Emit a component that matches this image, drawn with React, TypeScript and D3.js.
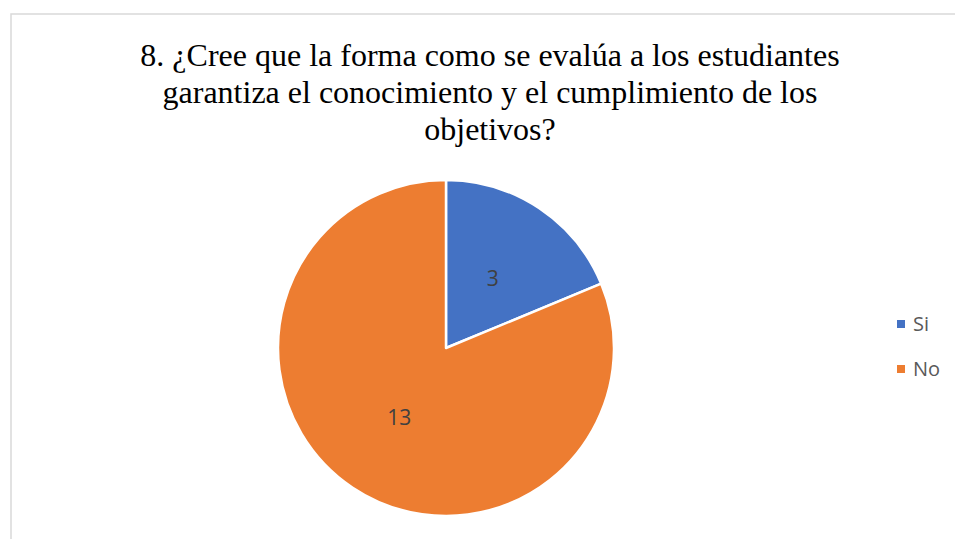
import React from "react";
import * as d3 from "d3";

const categories = ["Si", "No"];
const values = [3, 13];
const colors = ["#4472C4", "#ED7D31"];
const titleLines = [
  "8. ¿Cree que la forma como se evalúa a los estudiantes",
  "garantiza el conocimiento y el cumplimiento de los",
  "objetivos?",
];

export default function App() {
  const W = 955, H = 539;
  const cx = 446, cy = 348, R = 168;
  const pie = d3.pie<number>().sort(null).value((d) => d)(values);
  const arc = d3.arc<d3.PieArcDatum<number>>().innerRadius(0).outerRadius(R);
  const legendY = d3.scalePoint<string>().domain(categories).range([324, 369]);
  return (
    <svg width={W} height={H} style={{ position: "absolute", left: 0, top: 0 }}>
      <rect x={0} y={0} width={W} height={H} fill="#fff" />
      <rect x={11} y={14} width={W + 10} height={H + 10} fill="#fff" stroke="#d9d9d9" strokeWidth={1.5} />
      {titleLines.map((t, i) => (
        <text key={i} x={490} y={66 + i * 37} textAnchor="middle" fontFamily="'Liberation Serif', 'Times New Roman', serif" fontSize={32} fill="#000">
          {t}
        </text>
      ))}
      <g transform={`translate(${cx},${cy})`}>
        {pie.map((p, i) => (
          <path key={i} d={arc(p) || ""} fill={colors[i]} stroke="#fff" strokeWidth={2.5} strokeLinejoin="round" />
        ))}
        {pie.map((p, i) => {
          const [x, y] = arc.centroid(p);
          return (
            <text key={"l" + i} x={x} y={y} dy="0.35em" textAnchor="middle" fontFamily="'Open Sans', 'Liberation Sans', sans-serif" fontSize={21} fill="#404040">
              {values[i]}
            </text>
          );
        })}
      </g>
      {categories.map((c, i) => (
        <g key={c} transform={`translate(897,${legendY(c)})`}>
          <rect x={0} y={-4} width={8} height={8} fill={colors[i]} />
          <text x={16} y={0} dy="0.35em" fontFamily="'Open Sans', 'Liberation Sans', sans-serif" fontSize={20} fill="#595959">
            {c}
          </text>
        </g>
      ))}
    </svg>
  );
}
